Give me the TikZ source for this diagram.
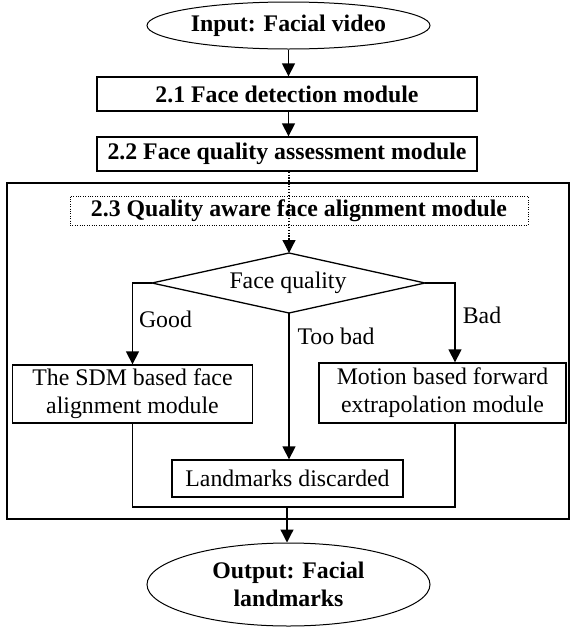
\documentclass[tikz,border=0pt]{standalone}
\usepackage{fontspec}
\setmainfont{Liberation Serif}
\usetikzlibrary{shapes.geometric,arrows.meta}
\begin{document}
\begin{tikzpicture}[x=1pt,y=-1pt,
  font=\fontsize{23.8}{28}\selectfont,
  box/.style={draw,line width=1.3pt,rectangle,inner sep=0pt,align=center},
  oval/.style={draw,line width=1pt,ellipse,inner sep=0pt,align=center,font=\fontsize{23.8}{28}\selectfont\bfseries},
  conn/.style={line width=1.3pt},
  arr/.style={conn,-{Triangle[length=13pt,width=13pt]}},
  lbl/.style={anchor=base,inner sep=0pt}
]
\useasboundingbox (0,0) rectangle (570,627);
% frame
\draw[line width=2pt] (7,183) rectangle (569,519);
% nodes
\node[oval,minimum width=283pt,minimum height=47pt] (in) at (288.5,25.5) {Input: Facial video};
\node[box,minimum width=380pt,minimum height=34pt,font=\fontsize{23.8}{28}\selectfont\bfseries] (b21) at (287,94) {2.1 Face detection module};
\node[box,minimum width=380pt,minimum height=34pt,font=\fontsize{23.8}{28}\selectfont\bfseries] (b22) at (287,154) {2.2 Face quality assessment module};
\node[box,line width=1pt,dash pattern=on 1pt off 1.4pt,minimum width=458pt,minimum height=29pt,font=\fontsize{23.8}{28}\selectfont\bfseries] (b23) at (299,210.5) {2.3 Quality aware face alignment module};
% decision diamond
\coordinate (fqN) at (289,253);
\coordinate (fqS) at (289,313);
\coordinate (fqW) at (152,283);
\coordinate (fqE) at (425,283);
\draw[line width=1.3pt,line join=miter] (fqN) -- (fqE) -- (fqS) -- (fqW) -- cycle;
\node[inner sep=0pt] (fq) at (288,283) {Face quality};
\node[box,minimum width=240pt,minimum height=58pt] (sdm) at (132.5,394) {The SDM based face\\alignment module};
\node[box,minimum width=247pt,minimum height=60pt] (mot) at (442.5,393) {Motion based forward\\extrapolation module};
\node[box,minimum width=231pt,minimum height=37pt] (lmk) at (287.5,478.5) {Landmarks discarded};
\node[oval,minimum width=283pt,minimum height=83pt] (out) at (288.5,584.5) {Output: Facial\\landmarks};
% labels
\node[lbl] (lgood) at (165.5,327) {Good};
\node[lbl] (ltoo) at (336,344) {Too bad};
\node[lbl] (lbad) at (482,323) {Bad};
% connectors
\coordinate (mr) at ([xshift=12.5pt]mot.north);
\coordinate (mrs) at ([xshift=12.5pt]mot.south);
\coordinate (mrg) at (287,507);
\draw[arr] (in.south) -- (in.south |- b21.north);
\draw[arr] (b21.south -| in.south) -- (in.south |- b22.north);
\draw[arr,dash pattern=on 1.3pt off 1.6pt] (b22.south -| fqN) -- (fqN);
\draw[arr] (fqW) -| (sdm.north);
\draw[arr] (fqE) -| (mr);
\draw[arr] (fqS) -- (fqS |- lmk.north);
\draw[conn] (sdm.south) |- (mrg) -| (mrs);
\draw[arr] (mrg) -- (mrg |- out.north);
\end{tikzpicture}
\end{document}
